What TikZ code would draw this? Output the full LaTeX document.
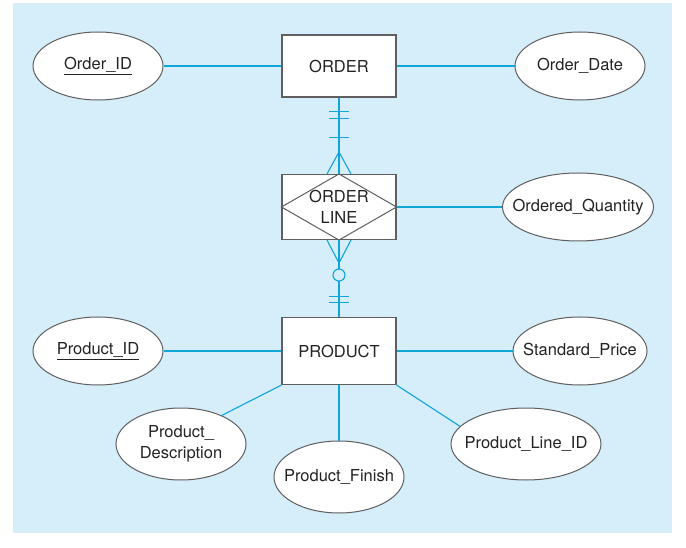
\documentclass[tikz,border=0pt]{standalone}
\usepackage{fontspec}
\setmainfont{TeX Gyre Heros}
\usepackage{tikz}
\usetikzlibrary{shapes.geometric,positioning,calc}
\definecolor{erblue}{RGB}{15,165,215}
\definecolor{erback}{RGB}{214,237,250}
\definecolor{ergray}{RGB}{95,95,95}
\definecolor{ertext}{RGB}{35,35,35}

\begin{document}
\begin{tikzpicture}[x=1pt, y=1pt, node distance=240pt, on grid,
    entity/.style={draw=ergray, line width=1.1pt, fill=white, minimum width=114pt,
      minimum height=62pt, inner sep=0pt},
    attr/.style={ellipse, draw=ergray, line width=1pt, fill=white, minimum width=130pt,
      minimum height=68pt, inner xsep=-18pt, inner ysep=0pt},
    link/.style={draw=erblue, line width=1.1pt},
    every node/.append style={text=ertext, font=\fontsize{16.5}{21}\selectfont}]
    \useasboundingbox (0,0) rectangle (686,-548);
    \fill[erback] (13,-3) rectangle (672,-533);

    \node[entity] (order) at (339,-66) {ORDER};
    \node[attr] (orderid) [left=241pt of order] {\underline{Order\_ID}};
    \node[attr] (orderdate) [right=241pt of order] {Order\_Date};
    \node[entity, minimum height=65pt, align=center] (orderline) [below=141pt of order] {ORDER\\LINE};
    \node[attr, minimum width=151pt] (orderqty) [right=239pt of orderline] {Ordered\_Quantity};
    \node[entity, minimum height=67pt] (product) [below=144pt of orderline] {PRODUCT};
    \node[attr] (productid) [left=241pt of product] {\underline{Product\_ID}};
    \node[attr, minimum width=134pt] (stdprice) [right=241pt of product] {Standard\_Price};
    \node[attr, minimum height=72pt, align=center] (proddesc) [below left=93pt and 158pt of product] {Product\_\\Description};
    \node[attr, minimum height=72pt] (prodfinish) [below=126pt of product] {Product\_Finish};
    \node[attr, minimum width=150pt, minimum height=72pt] (prodlineid) [below right=93pt and 187pt of product] {Product\_Line\_ID};

    % associative entity diamond
    \draw[ergray, line width=1pt] (orderline.north) -- (orderline.east)
        -- (orderline.south) -- (orderline.west) -- cycle;

    \path (order) edge[link] (orderid)
          (order) edge[link] (orderdate)
          (order) edge[link] (orderline)
          (orderline) edge[link] (orderqty)
          (orderline) edge[link] (product)
          (product) edge[link] (productid)
          (product) edge[link] (stdprice)
          (product.south west) edge[link] (proddesc.35)
          (product) edge[link] (prodfinish)
          (product.south east) edge[link] (prodlineid.165);

    % ORDER side: one and only one / one or many
    \foreach \d in {14,21,40}
        \draw[link] ($(order.south)+(-10,-\d)$) -- ++(20,0);
    \draw[link] ($(orderline.north)+(-12,0)$) -- ($(orderline.north)+(0,22)$)
        -- ($(orderline.north)+(12,0)$);
    % PRODUCT side: zero or many / one and only one
    \draw[link] ($(orderline.south)+(-12,0)$) -- ($(orderline.south)+(0,-23)$)
        -- ($(orderline.south)+(12,0)$);
    \draw[link, fill=erback] ($(orderline.south)+(0,-35)$) circle (6);
    \foreach \d in {14,20}
        \draw[link] ($(product.north)+(-10,\d)$) -- ++(20,0);
\end{tikzpicture}
\end{document}
